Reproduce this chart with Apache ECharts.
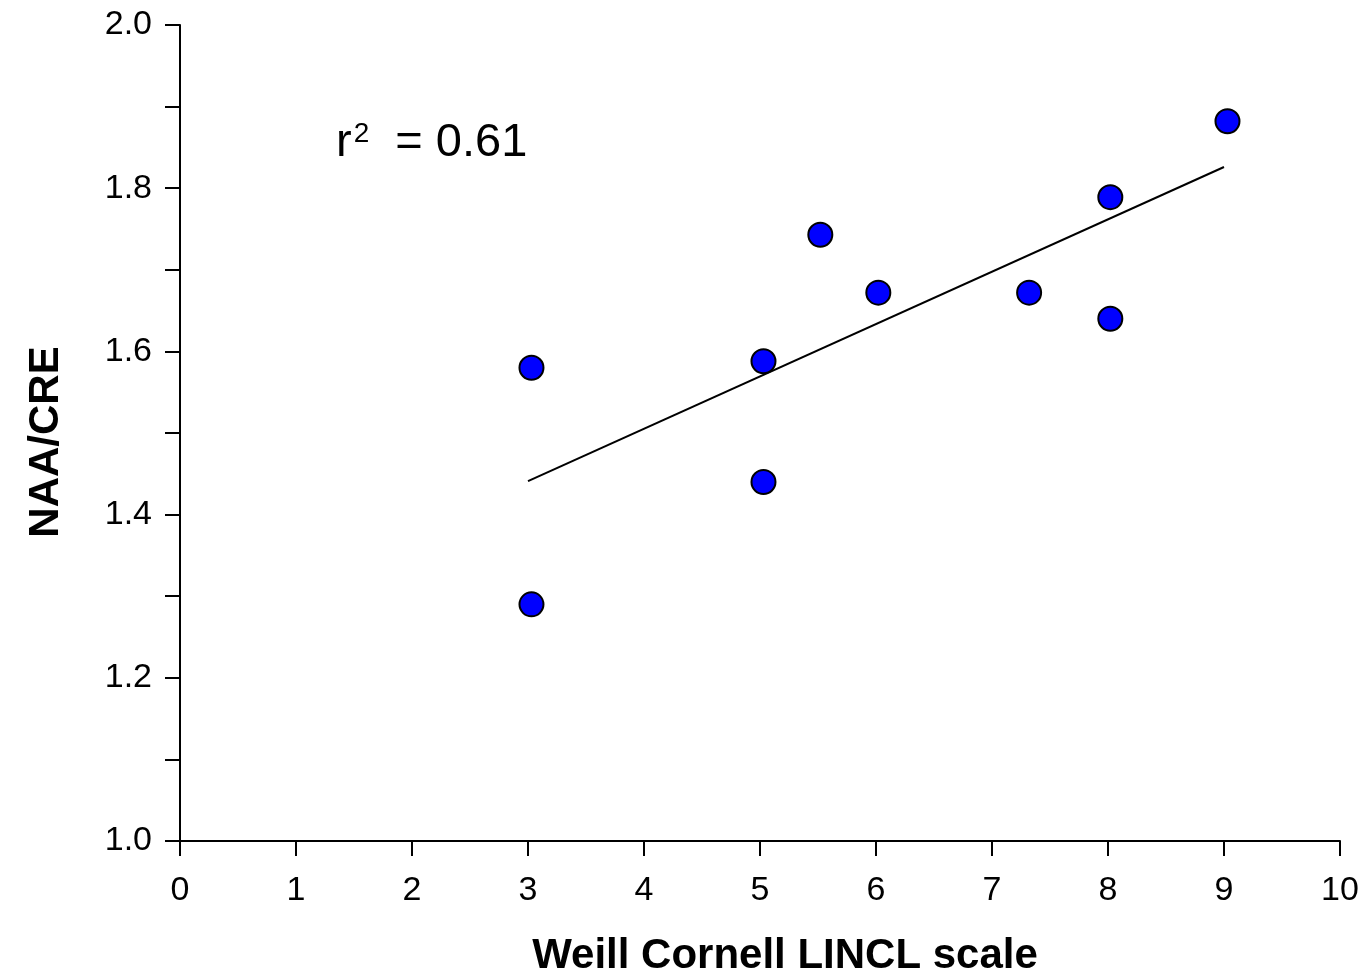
<!DOCTYPE html>
<html>
<head>
<meta charset="utf-8">
<script src="https://cdn.jsdelivr.net/npm/echarts@6/dist/echarts.min.js"></script>
<style>
  html, body { margin: 0; padding: 0; background: #fff; }
  #chart { width: 1363px; height: 973px; }
</style>
</head>
<body>
<div id="chart"></div>
<script>
// scale score vs NAA/CRE ratio
const scaleScores = [3.03, 3.03, 5.03, 5.03, 5.52, 6.02, 7.32, 8.02, 8.02, 9.03];
const naaCre = [1.58, 1.29, 1.588, 1.44, 1.743, 1.672, 1.672, 1.789, 1.64, 1.882];

// fitted line end points
const fitX = [3.0, 9.0];
const fitY = [1.441, 1.826];

const r2Text = '0.61';

const chart = echarts.init(document.getElementById('chart'));
const font = '"Liberation Sans", Arial, sans-serif';

const option = {
    animation: false,
    grid: { left: 180, right: 23, top: 25, bottom: 132, outerBoundsMode: 'none', containLabel: false },
    xAxis: {
        type: 'value',
        min: 0, max: 10, interval: 1,
        name: 'Weill Cornell LINCL scale',
        nameLocation: 'middle',
        nameGap: 94,
        nameTextStyle: { fontFamily: font, fontSize: 42, fontWeight: 'bold', color: '#000', padding: [0, 0, 0, 50] },
        axisLine: { onZero: false, lineStyle: { color: '#000', width: 2 } },
        axisTick: { inside: false, length: 15, lineStyle: { color: '#000', width: 2 } },
        axisLabel: { fontFamily: font, fontSize: 34, color: '#000', margin: 33 },
        splitLine: { show: false }
    },
    yAxis: {
        type: 'value',
        min: 1.0, max: 2.0, interval: 0.1,
        name: 'NAA/CRE',
        nameLocation: 'middle',
        nameGap: 113,
        nameTextStyle: { fontFamily: font, fontSize: 42, fontWeight: 'bold', color: '#000', padding: [0, 18, 0, 0] },
        axisLine: { onZero: false, lineStyle: { color: '#000', width: 2 } },
        axisTick: { inside: false, length: 15, lineStyle: { color: '#000', width: 2 } },
        axisLabel: {
            fontFamily: font, fontSize: 34, color: '#000', margin: 28,
            formatter: function (v) {
                const k = Math.round(v * 10);
                return k % 2 === 0 ? v.toFixed(1) : '';
            }
        },
        splitLine: { show: false }
    },
    graphic: [{
        type: 'text',
        left: 336,
        top: 120,
        style: {
            text: '{r|r}{s|2}{r|  = ' + r2Text + '}',
            rich: {
                r: { fontFamily: font, fontSize: 47, fill: '#000', verticalAlign: 'bottom' },
                s: { fontFamily: font, fontSize: 28, fill: '#000', verticalAlign: 'top', padding: [0, 0, 18, 2] }
            }
        }
    }],
    series: [
        {
            type: 'line',
            data: fitX.map((x, i) => [x, fitY[i]]),
            symbol: 'none',
            lineStyle: { color: '#000', width: 2 },
            z: 2
        },
        {
            type: 'scatter',
            data: scaleScores.map((x, i) => [x, naaCre[i]]),
            symbolSize: 24,
            itemStyle: { color: '#0000ff', borderColor: '#000', borderWidth: 2, opacity: 1 },
            z: 3
        }
    ]
};
chart.setOption(option);
</script>
</body>
</html>
